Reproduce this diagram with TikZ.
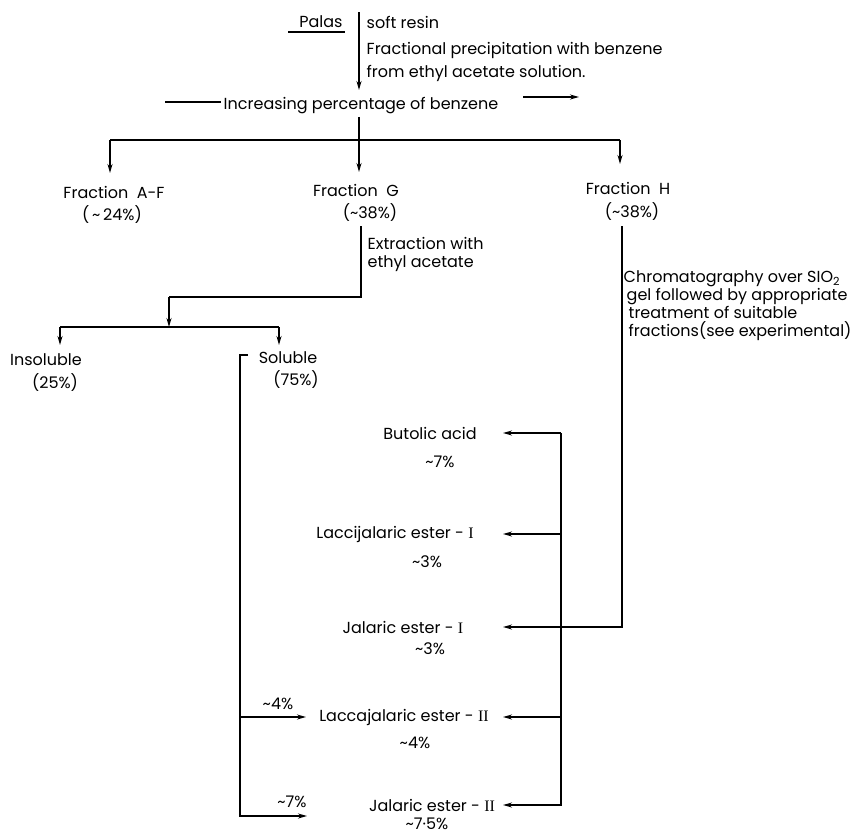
\documentclass[tikz,border=0pt]{standalone}
\usepackage{fontspec}
\setmainfont{Poppins}
\newfontfamily\romnum{Liberation Serif}
\usetikzlibrary{arrows.meta,positioning,calc}

\begin{document}
\begin{tikzpicture}[x=1pt, y=-1pt, line width=1.4pt,
      lbl/.style={font=\fontsize{16}{18}\selectfont, inner sep=2pt},
      arr/.style={-{Stealth[length=9pt,width=5pt]}}]
  \useasboundingbox (0,0) rectangle (865,835);

  % Resin and the precipitation step
  \node[lbl] (palas) at (321,22) {Palas};
  \coordinate (ul) at (288,32);
  \draw[line width=1.2pt] (ul) -- (ul -| palas.east);
  \node[lbl, anchor=west] (soft) at (364,22) {soft resin};
  \node[lbl, anchor=west] (fr1) at (364,50) {Fractional precipitation with benzene};
  \node[lbl, anchor=west] (fr2) at (364,73) {from ethyl acetate solution.};
  \coordinate (ptop) at (359,12);
  \coordinate (pbot) at (359,90);
  \draw[arr] (ptop) -- (pbot);

  \node[lbl] (inc) at (361,106) {Increasing percentage of benzene};
  \coordinate (incl) at (165,102);
  \draw (incl) -- (inc.west |- incl);
  \coordinate (inca) at (523,97);
  \coordinate (incb) at (579,97);
  \draw[arr] (inca) -- (incb);

  % Fractions A-F, G, H
  \node[lbl] (fAF) at (114,192) {Fraction\ \ A-F};
  \node[lbl] (pAF) at (112,215) {(\,\textasciitilde\,24\%)};
  \node[lbl] (fG)  at (356,190) {Fraction\ \ G};
  \node[lbl] (pG)  at (370,213) {(\textasciitilde 38\%)};
  \node[lbl] (fH)  at (628,188) {Fraction\ \ H};
  \node[lbl] (pH)  at (632,212) {(\textasciitilde 38\%)};

  \coordinate (bl) at (110,140);
  \coordinate (bm) at (359,140);
  \coordinate (br) at (620,140);
  \coordinate (tAF) at (110,173);
  \coordinate (tG)  at (359,172);
  \coordinate (tH)  at (620,164);
  \draw (bm |- inc.south) -- (bm);
  \draw (bl) -- (br);
  \draw[arr] (bl) -- (tAF);
  \draw[arr] (bm) -- (tG);
  \draw[arr] (br) -- (tH);

  % Fraction G: extraction with ethyl acetate
  \node[lbl, anchor=north west, align=left] (extr) at (365,235)
    {Extraction with\\ethyl acetate};
  \coordinate (g0) at (361,226);
  \coordinate (g1) at (169,297);
  \coordinate (g2) at (169,327);
  \draw (g0) |- (g1);
  \draw[arr] (g1) -- (g2);
  \coordinate (sl) at (60,327);
  \coordinate (sr) at (279,327);
  \coordinate (tIns) at (60,345);
  \coordinate (tSol) at (279,345);
  \draw (sl) -- (sr);
  \draw[arr] (sl) -- (tIns);
  \draw[arr] (sr) -- (tSol);

  \node[lbl] (ins)  at (46,360)  {Insoluble};
  \node[lbl] (pins) at (55,383)  {(25\%)};
  \node[lbl] (sol)  at (288,358) {Soluble};
  \node[lbl] (psol) at (296,380) {(75\%)};

  % Fraction H: chromatography
  \node[lbl, anchor=north west, align=left] (chrom) at (621,268)
    {Chromatography over SIO\textsubscript{2}\\
     \hspace{3pt}gel followed by appropriate\\
     \hspace{5pt}treatment of suitable\\
     \hspace{5pt}fractions(see experimental)};

  % Products
  \node[lbl] (but)   at (430,433) {Butolic acid};
  \node[lbl] (pbut)  at (440,462) {\textasciitilde 7\%};
  \node[lbl] (lacI)  at (395,534) {Laccijalaric ester - {\romnum I}};
  \node[lbl] (placI) at (427,562) {\textasciitilde 3\%};
  \node[lbl] (jalI)  at (403,627) {Jalaric ester - {\romnum I}};
  \node[lbl] (pjalI) at (430,649) {\textasciitilde 3\%};
  \node[lbl] (lacII) at (404,717) {Laccajalaric ester - {\romnum II}};
  \node[lbl] (placII) at (415,743) {\textasciitilde 4\%};
  \node[lbl] (jalII) at (432,805) {Jalaric ester - {\romnum II}};
  \node[lbl] (pjalII) at (427,824) {\textasciitilde 7·5\%};

  \coordinate (tips) at (503,0);
  \coordinate (rvt) at (561,433);
  \coordinate (rvb) at (561,806);
  \draw (rvt) -- (rvb);
  \foreach \n in {but,lacI,lacII,jalII}{
    \draw[arr] (\n.east -| rvt) -- (\n.east -| tips);
  }
  \coordinate (hd) at (622,226);
  \draw[arr] (hd) |- (jalI.east -| tips);

  % Soluble part straight to the esters
  \coordinate (sb0) at (248,355);
  \coordinate (sb1) at (240,355);
  \coordinate (t4) at (306,717);
  \coordinate (t7) at (307,816);
  \draw[arr] (sb0) -- (sb1) |- (t7);
  \draw[arr] (sb1 |- t4) -- (t4);
  \node[lbl] (l4) at (278,704) {\textasciitilde 4\%};
  \node[lbl] (l7) at (292,802) {\textasciitilde 7\%};
\end{tikzpicture}
\end{document}
